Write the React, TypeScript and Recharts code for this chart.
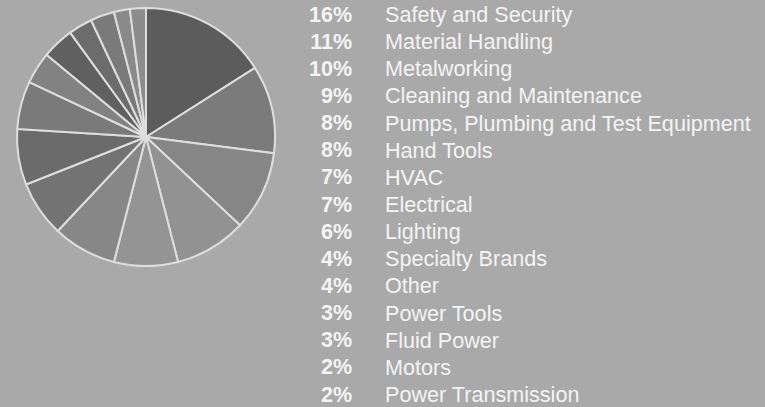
import { Pie, PieChart, Cell } from "recharts"

const categories = [
  "Safety and Security",
  "Material Handling",
  "Metalworking",
  "Cleaning and Maintenance",
  "Pumps, Plumbing and Test Equipment",
  "Hand Tools",
  "HVAC",
  "Electrical",
  "Lighting",
  "Specialty Brands",
  "Other",
  "Power Tools",
  "Fluid Power",
  "Motors",
  "Power Transmission",
]

const shares = [16, 11, 10, 9, 8, 8, 7, 7, 6, 4, 4, 3, 3, 2, 2]

const SLICE_COLORS = [
  "#5c5c5c", "#7b7b7b", "#868686", "#929292", "#949494",
  "#878787", "#737373", "#6b6b6b", "#7a7a7a", "#828282",
  "#606060", "#6c6c6c", "#7a7a7a", "#8a8a8a", "#8c8c8c",
]

const data = categories.map((name, i) => ({ name, value: shares[i] }))

function ShareList() {
  return (
    <div
      style={{
        position: "absolute",
        left: 290,
        top: 1.5,
        fontFamily: "'Liberation Sans', Arial, sans-serif",
        color: "#f4f4f4",
      }}
    >
      {data.map((d) => (
        <div key={d.name} style={{ display: "flex", height: 27.15, alignItems: "center", whiteSpace: "nowrap" }}>
          <span style={{ width: 62, textAlign: "right", fontWeight: "bold", fontSize: 21.5 }}>{d.value}%</span>
          <span style={{ marginLeft: 33, fontSize: 21.6 }}>{d.name}</span>
        </div>
      ))}
    </div>
  )
}

export default function App() {
  return (
    <div style={{ position: "fixed", left: 0, top: 0, width: 765, height: 407, background: "#a9a9a9", overflow: "hidden" }}>
      <PieChart width={300} height={280} margin={{ top: 0, right: 0, bottom: 0, left: 0 }}>
        <Pie
          data={data}
          dataKey="value"
          cx={146}
          cy={137}
          outerRadius={129}
          startAngle={90}
          endAngle={-270}
          stroke="#dedede"
          strokeWidth={2}
          isAnimationActive={false}
        >
          {data.map((entry, index) => (
            <Cell key={entry.name} fill={SLICE_COLORS[index % SLICE_COLORS.length]} />
          ))}
        </Pie>
      </PieChart>
      <ShareList />
    </div>
  )
}
